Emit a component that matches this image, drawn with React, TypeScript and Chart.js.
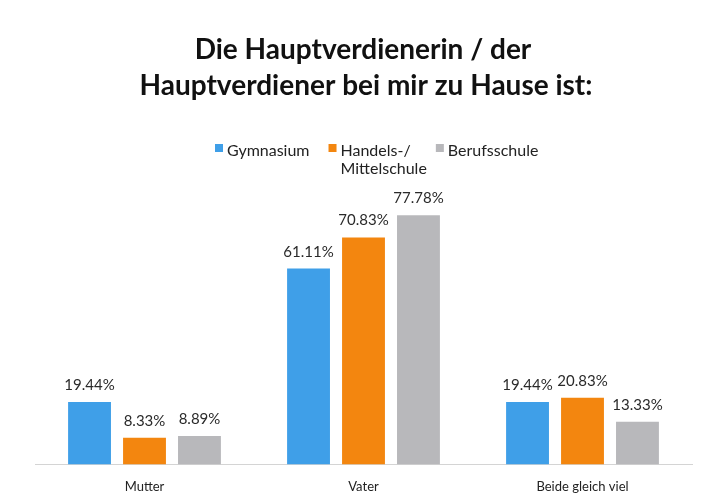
import React, { useEffect, useRef } from "react";
import { Chart, registerables } from "chart.js";

Chart.register(...registerables);

const categories = ["Mutter", "Vater", "Beide gleich viel"];
const seriesNames = ["Gymnasium", "Handels-/\nMittelschule", "Berufsschule"];
const gymnasium = [19.44, 61.11, 19.44];
const handels = [8.33, 70.83, 20.83];
const berufsschule = [8.89, 77.78, 13.33];
const seriesColors = ["#3f9fe8", "#f3860f", "#b8b8bb"];
const titleLines = ["Die Hauptverdienerin / der", "Hauptverdiener bei mir zu Hause ist:"];

const FONT = "Lato, 'Open Sans', sans-serif";
const legendGaps = [19, 9, 0];

const decorPlugin = {
  id: "decor",
  beforeDraw(chart: any) {
    const { ctx, width, height } = chart;
    ctx.save();
    ctx.fillStyle = "#ffffff";
    ctx.fillRect(0, 0, width, height);
    ctx.restore();
  },
  afterDraw(chart: any) {
    const ctx = chart.ctx;
    ctx.save();
    // title
    ctx.fillStyle = "#111111";
    ctx.font = `bold 28px ${FONT}`;
    ctx.textAlign = "center";
    ctx.textBaseline = "alphabetic";
    ctx.fillText(titleLines[0], 363, 59);
    ctx.fillText(titleLines[1], 366, 95);
    // legend
    ctx.font = `16px ${FONT}`;
    ctx.textAlign = "left";
    let x = 215;
    chart.data.datasets.forEach((ds: any, i: number) => {
      ctx.fillStyle = ds.backgroundColor;
      ctx.fillRect(x, 144, 8, 8);
      const lines = String(ds.label).split("\n");
      ctx.fillStyle = "#222222";
      let w = 0;
      lines.forEach((ln: string, j: number) => {
        ctx.fillText(ln, x + 12, 156 + j * 18);
        w = Math.max(w, ctx.measureText(ln).width);
      });
      x += 12 + w + legendGaps[i];
    });
    ctx.restore();
  },
  afterDatasetsDraw(chart: any) {
    const ctx = chart.ctx;
    ctx.save();
    ctx.font = `15px ${FONT}`;
    ctx.fillStyle = "#2a2a2a";
    ctx.textAlign = "center";
    ctx.textBaseline = "alphabetic";
    chart.data.datasets.forEach((ds: any, i: number) => {
      const meta = chart.getDatasetMeta(i);
      meta.data.forEach((el: any, j: number) => {
        const v = ds.data[j];
        ctx.fillText(v.toFixed(2) + "%", el.x, el.y - 12);
      });
    });
    ctx.restore();
  },
};

export default function App() {
  const ref = useRef<HTMLCanvasElement>(null);
  useEffect(() => {
    if (!ref.current) return;
    const data = [gymnasium, handels, berufsschule];
    const chart = new Chart(ref.current, {
      type: "bar",
      data: {
        labels: categories,
        datasets: data.map((d, i) => ({
          label: seriesNames[i],
          data: d,
          backgroundColor: seriesColors[i],
          borderWidth: 0,
          categoryPercentage: 0.753,
          barPercentage: 0.78,
        })),
      },
      options: {
        animation: false,
        responsive: true,
        maintainAspectRatio: false,
        layout: { padding: { left: 35, right: 35, top: 192, bottom: -6 } },
        plugins: {
          legend: { display: false },
          title: { display: false },
          tooltip: { enabled: false },
        },
        scales: {
          x: {
            grid: { display: false, drawTicks: false },
            border: { display: true, color: "#d4d4d4", width: 1 },
            ticks: {
              color: "#222222",
              font: { family: FONT, size: 13 },
              padding: 15,
            },
          },
          y: {
            display: false,
            min: 0,
            max: 85,
          },
        },
      },
      plugins: [decorPlugin],
    });
    return () => chart.destroy();
  }, []);
  return (
    <div style={{ position: "absolute", left: 0, top: 0, width: 727, height: 504 }}>
      <canvas ref={ref} />
    </div>
  );
}
